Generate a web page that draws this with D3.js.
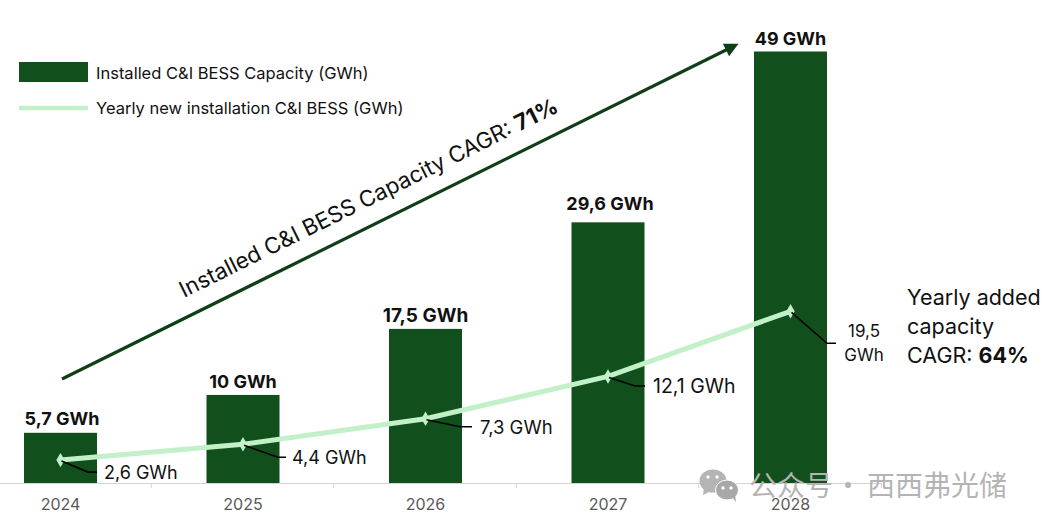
<!DOCTYPE html>
<html>
<head>
<meta charset="utf-8">
<script src="https://cdn.jsdelivr.net/npm/d3@7"></script>
<style>
  html, body { margin: 0; padding: 0; background: #fff; }
  svg { display: block; }
  text { font-family: Inter, "Open Sans", sans-serif; fill: #111; }
</style>
</head>
<body>
<div id="chart"></div>
<script>
const years = ["2024", "2025", "2026", "2027", "2028"];
const installed = [5.7, 10, 17.5, 29.6, 49];
const yearlyNew = [2.6, 4.4, 7.3, 12.1, 19.5];
const installedLabels = ["5,7 GWh", "10 GWh", "17,5 GWh", "29,6 GWh", "49 GWh"];
const yearlyLabels = ["2,6 GWh", "4,4 GWh", "7,3 GWh", "12,1 GWh", "19,5|GWh"];
const legendLabels = ["Installed C&I BESS Capacity (GWh)", "Yearly new installation C&I BESS (GWh)"];

const width = 1042, height = 528;
const baseY = 483;
const dark = "#11501c", light = "#c2f0c8";

const svg = d3.select("#chart").append("svg")
    .attr("width", width)
    .attr("height", height);

const x = d3.scaleBand()
    .domain(years)
    .range([-30.75, 881.75])
    .paddingInner(0.6)
    .paddingOuter(0.3);

const y = d3.scaleLinear()
    .domain([0, 49])
    .range([baseY, 51.5]);

const cx = d => x(d) + x.bandwidth() / 2;

// axis line and year labels
const axis = svg.append("g")
    .attr("transform", "translate(0," + baseY + ")")
    .call(d3.axisBottom(x).tickSize(0).tickPadding(16));
axis.select(".domain").remove();
axis.selectAll("text")
    .attr("font-size", 16)
    .style("font-family", "Inter, sans-serif")
    .style("fill", "#595959");

svg.append("line")
    .attr("x1", 0).attr("x2", 882)
    .attr("y1", baseY + 0.5).attr("y2", baseY + 0.5)
    .attr("stroke", "#d4d4d4");

// separators sit between the categories
svg.append("g").selectAll("line")
    .data(years)
    .enter().append("line")
    .attr("x1", d => cx(d) + x.step() / 2 - 0.5)
    .attr("x2", d => cx(d) + x.step() / 2 - 0.5)
    .attr("y1", baseY)
    .attr("y2", baseY + 5)
    .attr("stroke", "#d4d4d4");

// bars
svg.append("g").selectAll("rect")
    .data(installed)
    .enter().append("rect")
    .attr("x", (d, i) => x(years[i]))
    .attr("y", d => y(d))
    .attr("width", x.bandwidth())
    .attr("height", d => baseY - y(d))
    .attr("fill", dark);

const labelGap = [8, 7, 7, 12, 7];
const labelDx = [1.5, 0, 0, 2, 0];
svg.append("g").selectAll("text")
    .data(installed)
    .enter().append("text")
    .attr("x", (d, i) => cx(years[i]) + labelDx[i])
    .attr("y", (d, i) => y(d) - labelGap[i])
    .attr("text-anchor", "middle")
    .attr("font-size", (d, i) => i == 2 ? 19 : 18)
    .attr("font-weight", 700)
    .text((d, i) => installedLabels[i]);

const line = d3.line()
    .x((d, i) => cx(years[i]))
    .y(d => y(d));

svg.append("path")
    .datum(yearlyNew)
    .attr("d", line)
    .attr("fill", "none")
    .attr("stroke", light)
    .attr("stroke-width", 5);

svg.append("g").selectAll("path")
    .data(yearlyNew)
    .enter().append("path")
    .attr("d", d3.symbol().type(d3.symbolDiamond).size(60))
    .attr("transform", (d, i) => "translate(" + cx(years[i]) + "," + y(d) + ")")
    .attr("fill", light);

// leader lines sit on top of the markers
const elbowX = [88, 278, 460, 635, 827];
const elbowDy = [12, 13, 8, 9.5, 32];
const leaderEnd = [97, 286, 472, 645, 836];
const labelX = [104, 292, 480, 653, 864];
const valueSize = [18, 18, 18.5, 19.5, 17];

svg.append("g").selectAll("path")
    .data(yearlyNew)
    .enter().append("path")
    .attr("d", (d, i) => "M" + (cx(years[i]) + 1) + "," + (y(d) + 1)
        + "L" + elbowX[i] + "," + (y(d) + elbowDy[i])
        + "L" + leaderEnd[i] + "," + (y(d) + elbowDy[i]))
    .attr("fill", "none")
    .attr("stroke", "#000")
    .attr("stroke-width", 1.6);

// line value labels
const labels = svg.append("g");
yearlyNew.forEach((d, i) => {
    const parts = yearlyLabels[i].split("|");
    parts.forEach((p, k) => {
        labels.append("text")
            .attr("x", labelX[i])
            .attr("y", y(d) + elbowDy[i] + (parts.length > 1 ? -6 + k * 24 : 7))
            .attr("text-anchor", parts.length > 1 ? "middle" : "start")
            .attr("font-size", valueSize[i])
            .text(p);
    });
});

// legend
svg.append("rect")
    .attr("x", 19).attr("y", 62)
    .attr("width", 69).attr("height", 20)
    .attr("fill", dark);
svg.append("line")
    .attr("x1", 19).attr("x2", 88)
    .attr("y1", 108).attr("y2", 108)
    .attr("stroke", light)
    .attr("stroke-width", 4.5);
svg.append("g").selectAll("text")
    .data(legendLabels)
    .enter().append("text")
    .attr("x", 96)
    .attr("y", (d, i) => 79 + i * 35)
    .attr("font-size", 16.5)
    .text(d => d);

// CAGR arrow and its label
const arrowColor = "#0f3f18";
svg.append("line")
    .attr("x1", 62).attr("y1", 379)
    .attr("x2", 728).attr("y2", 49)
    .attr("stroke", arrowColor)
    .attr("stroke-width", 3.2);
svg.append("path")
    .attr("d", "M0,-7L14,0L0,7Z")
    .attr("transform", "translate(726,50) rotate(-26.4)")
    .attr("fill", arrowColor);

const cagr = svg.append("text")
    .attr("transform", "translate(184,298) rotate(-26.4)")
    .attr("font-size", 22.3);
cagr.append("tspan").text("Installed C&I BESS Capacity CAGR: ");
cagr.append("tspan").attr("font-weight", 700).text("71%");

const side = svg.append("g").attr("font-size", 21.5);
side.append("text").attr("x", 907).attr("y", 305).text("Yearly added");
side.append("text").attr("x", 907).attr("y", 334).text("capacity");
const sideLast = side.append("text").attr("x", 907).attr("y", 363);
sideLast.append("tspan").text("CAGR: ");
sideLast.append("tspan").attr("font-weight", 700).text("64%");

// watermark
const mark = svg.append("g");
mark.append("ellipse").attr("cx", 713).attr("cy", 481).attr("rx", 13.5).attr("ry", 11.5).attr("fill", "#b4b4b4");
mark.append("path").attr("d", "M704,488L703,495L711,491Z").attr("fill", "#b4b4b4");
mark.append("ellipse").attr("cx", 727).attr("cy", 490).attr("rx", 11.5).attr("ry", 10).attr("fill", "#a8a8a8").attr("stroke", "#fff").attr("stroke-width", 1);
mark.append("path").attr("d", "M732,497L736,502L735,494Z").attr("fill", "#a8a8a8");
[[708, 477], [717, 477], [723, 488], [731, 488]].forEach(p => {
    mark.append("circle").attr("cx", p[0]).attr("cy", p[1]).attr("r", 1.7).attr("fill", "#fff");
});
const markText = mark.append("text")
    .attr("y", 496)
    .attr("font-size", 28)
    .style("font-family", '"Noto Sans CJK SC"')
    .style("fill", "#b4b4b4");
markText.append("tspan").attr("x", 749).text("公众号");
markText.append("tspan").attr("x", 834).text("·");
markText.append("tspan").attr("x", 867).text("西西弗光储");
</script>
</body>
</html>
